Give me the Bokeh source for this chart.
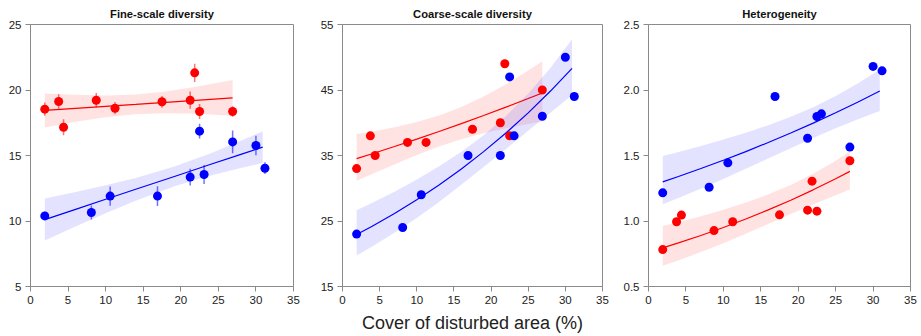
import numpy as np
from bokeh.plotting import figure
from bokeh.layouts import row
from bokeh.models import FixedTicker, NumeralTickFormatter, Range1d
from bokeh.embed import file_html
from bokeh.resources import INLINE

# ---------------- data ----------------
x_red = [1.9, 3.75, 4.4, 8.75, 11.25, 17.5, 21.25, 21.85, 22.5, 26.9]
x_blue = [1.9, 8.1, 10.6, 16.9, 21.25, 22.5, 23.1, 26.9, 30.0, 31.2]

fine_red = [18.54, 19.12, 17.16, 19.22, 18.61, 19.10, 19.22, 21.31, 18.36, 18.36]
fine_red_err = [0.51, 0.56, 0.61, 0.55, 0.47, 0.45, 0.66, 0.70, 0.57, 0.40]
fine_blue = [10.39, 10.65, 11.90, 11.90, 13.35, 16.86, 13.55, 16.04, 15.76, 14.03]
fine_blue_err = [0.32, 0.53, 0.73, 0.75, 0.64, 0.57, 0.73, 0.86, 0.74, 0.45]

coarse_red = [33, 38, 35, 37, 37, 39, 40, 49, 38, 45]
coarse_blue = [23, 24, 29, 35, 35, 47, 38, 41, 50, 44]

het_red = [0.782, 0.994, 1.045, 0.927, 0.994, 1.047, 1.083, 1.304, 1.075, 1.460]
het_blue = [1.215, 1.258, 1.444, 1.950, 1.632, 1.798, 1.818, 1.564, 2.180, 2.146]

# fitted lines and confidence bands
fine_fit_x_red = [1.9, 6, 10, 14, 18, 22, 26.9]
fine_fit_red = [18.44, 18.60, 18.75, 18.90, 19.06, 19.21, 19.40]
fine_lo_red = [17.14, 17.57, 17.92, 18.15, 18.23, 18.18, 18.04]
fine_hi_red = [19.74, 19.63, 19.58, 19.65, 19.89, 20.24, 20.76]

fine_fit_x_blue = [1.9, 6, 10, 14, 19.25, 24, 28, 30.9]
fine_fit_blue = [10.11, 10.89, 11.66, 12.42, 13.42, 14.33, 15.09, 15.64]
fine_lo_blue = [8.51, 9.58, 10.59, 11.55, 12.67, 13.48, 14.05, 14.43]
fine_hi_blue = [11.71, 12.21, 12.72, 13.28, 14.17, 15.17, 16.13, 16.85]

fit_x_red = [1.9, 4, 7, 10, 13, 16, 19, 22, 25, 26.9]
fit_x_blue = [1.9, 4, 7, 10, 13, 16, 19, 22, 25, 28, 30.9]

coarse_fit_red = [34.52, 35.27, 36.37, 37.50, 38.66, 39.86, 41.10, 42.38, 43.70, 44.55]
coarse_hi_red = [38.28, 38.68, 39.33, 40.11, 41.10, 42.39, 43.99, 45.87, 47.97, 49.40]
coarse_lo_red = [31.13, 32.16, 33.63, 35.06, 36.36, 37.48, 38.40, 39.16, 39.81, 40.18]
coarse_fit_blue = [22.94, 24.21, 26.15, 28.25, 30.51, 32.95, 35.59, 38.43, 41.51, 44.84, 48.30]
coarse_hi_blue = [26.64, 27.77, 29.48, 31.34, 33.35, 35.58, 38.11, 41.02, 44.44, 48.41, 52.76]
coarse_lo_blue = [19.75, 21.11, 23.20, 25.47, 27.91, 30.52, 33.24, 36.00, 38.77, 41.53, 44.22]

het_fit_red = [0.795, 0.8326, 0.8895, 0.9503, 1.0152, 1.0846, 1.1587, 1.2379, 1.3225, 1.379]
het_hi_red = [0.9613, 0.9914, 1.0371, 1.0867, 1.1413, 1.2033, 1.2750, 1.3601, 1.4607, 1.5330]
het_lo_red = [0.6575, 0.6992, 0.7629, 0.8311, 0.9030, 0.9777, 1.0530, 1.1267, 1.1974, 1.2405]
het_fit_blue = [1.299, 1.340, 1.4005, 1.4638, 1.530, 1.5993, 1.6717, 1.7473, 1.8264, 1.909, 1.9923]
het_hi_blue = [1.4958, 1.5268, 1.5728, 1.6216, 1.6741, 1.7316, 1.7957, 1.8689, 1.9535, 2.0506, 2.1565]
het_lo_blue = [1.1281, 1.1761, 1.2471, 1.3214, 1.3983, 1.4771, 1.5562, 1.6336, 1.7075, 1.7771, 1.8406]

titles = ["Fine-scale diversity", "Coarse-scale diversity", "Heterogeneity"]
x_ticks = [0, 5, 10, 15, 20, 25, 30, 35]
y_ticks_fine = [5, 10, 15, 20, 25]
y_ticks_coarse = [15, 25, 35, 45, 55]
y_ticks_het = [0.5, 1.0, 1.5, 2.0, 2.5]
x_label = "Cover of disturbed area (%)"

RED = "#ff0000"
BLUE = "#0000ff"
GRAY = "#8a8a8a"
FONT = "Liberation Sans"
H = 336


def make_fig(title, yr, yticks, width, left, right, xlabel=" ", fmt=None):
    p = figure(width=width, height=H, output_backend="svg", toolbar_location=None,
               x_range=Range1d(0, 35), y_range=Range1d(*yr),
               min_border_left=left, min_border_right=right,
               min_border_top=24, min_border_bottom=50)
    p.title.text = title
    p.title.align = "center"
    p.title.text_font = FONT
    p.title.text_font_size = "11.2px"
    p.title.text_font_style = "bold"
    p.title.text_color = "#111111"
    p.title.standoff = 9
    p.title.offset = 0
    p.grid.visible = False
    p.outline_line_color = GRAY
    p.outline_line_width = 1
    p.background_fill_color = "white"
    p.border_fill_color = "white"
    for ax in (p.xaxis[0], p.yaxis[0]):
        ax.axis_line_color = GRAY
        ax.major_tick_line_color = GRAY
        ax.minor_tick_line_color = None
        ax.major_tick_out = 5
        ax.major_tick_in = 0
        ax.major_label_text_font = FONT
        ax.major_label_text_font_size = "11.5px"
        ax.major_label_text_color = "#222222"
        ax.major_label_standoff = 4
    p.xaxis[0].ticker = FixedTicker(ticks=x_ticks)
    p.yaxis[0].ticker = FixedTicker(ticks=yticks)
    if fmt:
        p.yaxis[0].formatter = NumeralTickFormatter(format=fmt)
    p.xaxis[0].axis_label = xlabel
    p.xaxis[0].axis_label_text_font = FONT
    p.xaxis[0].axis_label_text_font_size = "18px"
    p.xaxis[0].axis_label_text_font_style = "normal"
    p.xaxis[0].axis_label_text_color = "#222222"
    p.xaxis[0].axis_label_standoff = 6
    return p


def add_fit(p, fx, fy, lo, hi, color):
    p.varea(x=fx, y1=lo, y2=hi, fill_color=color, fill_alpha=0.11)
    p.line(fx, fy, line_color=color, line_width=1.2)


p1 = make_fig(titles[0], (5, 25), y_ticks_fine, 317, 30, 24)
add_fit(p1, fine_fit_x_red, fine_fit_red, fine_lo_red, fine_hi_red, RED)
add_fit(p1, fine_fit_x_blue, fine_fit_blue, fine_lo_blue, fine_hi_blue, BLUE)
for xs, ys, es, c in ((x_red, fine_red, fine_red_err, RED), (x_blue, fine_blue, fine_blue_err, BLUE)):
    lo = [y - e for y, e in zip(ys, es)]
    hi = [y + e for y, e in zip(ys, es)]
    p1.segment(x0=xs, y0=lo, x1=xs, y1=hi, line_color=c, line_alpha=0.55, line_width=1.5)
    p1.scatter(xs, ys, size=9, fill_color=c, line_color=c, line_width=0)

p2 = make_fig(titles[1], (15, 55), y_ticks_coarse, 303, 22, 18, xlabel=x_label)
add_fit(p2, fit_x_red, coarse_fit_red, coarse_lo_red, coarse_hi_red, RED)
add_fit(p2, fit_x_blue, coarse_fit_blue, coarse_lo_blue, coarse_hi_blue, BLUE)
p2.scatter(x_red, coarse_red, size=9, fill_color=RED, line_color=RED, line_width=0)
p2.scatter(x_blue, coarse_blue, size=9, fill_color=BLUE, line_color=BLUE, line_width=0)

p3 = make_fig(titles[2], (0.5, 2.5), y_ticks_het, 297, 28, 7, fmt="0.0")
add_fit(p3, fit_x_blue, het_fit_blue, het_lo_blue, het_hi_blue, BLUE)
add_fit(p3, fit_x_red, het_fit_red, het_lo_red, het_hi_red, RED)
p3.scatter(x_blue, het_blue, size=9, fill_color=BLUE, line_color=BLUE, line_width=0)
p3.scatter(x_red, het_red, size=9, fill_color=RED, line_color=RED, line_width=0)

layout = row(p1, p2, p3, spacing=0)
open("out.html", "w").write(file_html(layout, INLINE))
